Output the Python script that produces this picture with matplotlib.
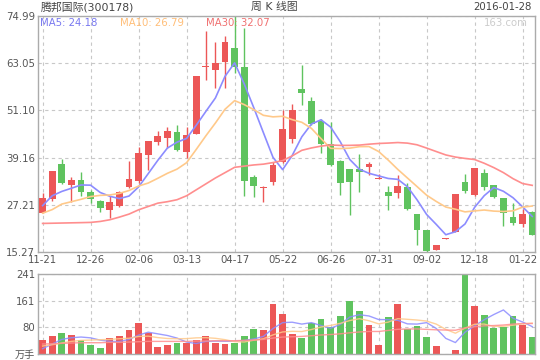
#!/usr/bin/env python3
"""
Weekly K-line chart for 腾邦国际 (300178), with MA5/MA10/MA30 and volume.
"""

import matplotlib
matplotlib.use("Agg")
import matplotlib.pyplot as plt
import numpy as np
import pandas as pd

plt.rcParams["font.family"] = ["DejaVu Sans", "Noto Sans CJK SC"]

# weekly candles
opens = [25.10, 28.64, 37.45, 32.25, 33.42, 30.40, 28.13, 25.95, 26.96, 31.66,
         33.34, 39.72, 43.07, 44.08, 45.76, 40.56, 45.09, 62.04, 61.20, 63.47,
         66.91, 62.04, 34.18, 31.40, 33.00, 38.12, 43.83, 56.59, 53.48, 48.36,
         42.49, 38.21, 36.19, 36.19, 36.78, 33.84, 30.40, 30.15, 31.66, 24.86,
         20.75, 15.80, 18.60, 20.41, 32.92, 29.73, 35.18, 32.16, 28.89, 24.10,
         22.26, 25.28]
highs = [30.20, 35.70, 38.79, 34.26, 35.44, 31.07, 28.47, 29.48, 30.65, 38.29,
         41.90, 43.41, 45.93, 46.93, 47.52, 46.85, 59.86, 71.10, 68.42, 69.93,
         74.99, 71.94, 34.68, 31.91, 38.04, 51.21, 52.81, 62.71, 54.57, 48.95,
         48.11, 38.54, 36.19, 39.97, 37.95, 35.02, 32.08, 34.85, 32.83, 24.86,
         20.75, 16.97, 18.80, 29.90, 34.93, 36.44, 36.19, 32.33, 29.06, 27.63,
         26.12, 25.53]
lows = [25.10, 28.05, 32.50, 27.88, 29.39, 27.63, 25.28, 23.85, 26.62, 31.49,
        32.67, 36.03, 42.23, 41.48, 40.89, 38.96, 45.09, 58.85, 56.84, 56.84,
        60.53, 29.48, 29.22, 27.97, 32.25, 37.70, 42.74, 52.39, 47.30, 40.22,
        37.00, 29.73, 24.52, 30.40, 34.85, 33.67, 25.95, 28.89, 25.87, 17.14,
        15.27, 15.80, 18.60, 20.41, 30.15, 29.48, 30.99, 29.06, 21.92, 22.09,
        21.59, 19.66]
closes = [28.90, 35.69, 32.67, 33.42, 30.48, 28.64, 26.45, 27.88, 30.48, 33.67,
          40.22, 43.24, 44.75, 46.01, 41.06, 45.00, 59.86, 62.20, 63.13, 68.42,
          62.04, 33.25, 31.99, 31.60, 37.20, 46.51, 51.21, 55.58, 47.77, 42.57,
          37.28, 32.75, 33.00, 35.43, 37.45, 34.01, 29.48, 31.91, 26.12, 20.92,
          15.40, 16.97, 18.80, 29.90, 30.74, 36.44, 31.74, 29.14, 25.11, 22.59,
          24.86, 19.66]
# volume in 万手
volumes = [40.7, 53.2, 64.7, 56.3, 40.7, 28.2, 18.8, 46.9, 53.2, 72.0,
           93.9, 62.6, 21.9, 28.2, 33.4, 33.4, 40.7, 53.2, 33.4, 31.3,
           33.4, 53.2, 75.1, 72.0, 150.2, 122.0, 59.5, 46.9, 93.9, 106.4,
           81.4, 115.8, 159.6, 128.3, 87.6, 28.2, 112.7, 150.2, 75.1, 84.5,
           50.1, 25.0, 0.3, 12.5, 241.0, 144.0, 118.9, 78.2, 81.4, 115.8,
           87.6, 50.1]

# moving-average values before a full window exists (earlier history not shown)
ma5_head = [27.0, 29.5, 30.6, 31.4]
ma10_head = [25.1, 26.0, 27.4, 28.0, 28.6, 29.3, 29.6, 29.7, 30.1]
ma30_head = [22.5, 22.55, 22.6, 22.65, 22.7, 22.76, 23.0, 23.43, 24.1, 24.86,
             25.95, 26.79, 27.63, 28.0, 28.5, 29.5, 31.0, 32.5, 34.0, 35.35,
             36.7, 37.0, 37.3, 37.5, 37.9, 38.4, 39.6, 41.0, 41.6]
vol_ma5_head = [16, 30, 44, 49]
vol_ma10_head = [24, 28, 33, 38, 41, 42, 43, 44, 46]
vol_ma30_head = [30, 31, 32, 33, 34, 34, 34, 35, 35, 36, 37, 38, 38, 38, 38,
                 38, 39, 39, 40, 40, 40, 41, 42, 44, 48, 51, 52, 53, 55]

tick_labels = ["11-21", "12-26", "02-06", "03-13", "04-17", "05-22",
               "06-26", "07-31", "09-02", "12-18", "01-22"]

RED = "#EC5757"
GREEN = "#5FC35F"
MA5_C = "#8C8CFF"
MA10_C = "#FFC98A"
MA30_C = "#FF8E8E"
GRID_C = "#C8C8C8"
SPINE_C = "#ABABAB"
TEXT_C = "#555555"


def moving_average(values, window, head):
    """Rolling mean, with the leading part taken from the chart."""
    ma = pd.Series(values).rolling(window).mean().to_numpy()
    ma[:len(head)] = head
    return ma


def style_axes(ax):
    for sp in ax.spines.values():
        sp.set_color(SPINE_C)
        sp.set_linewidth(1.0)
    ax.tick_params(length=0, colors=TEXT_C, labelsize=7.3, pad=2)
    ax.grid(True, color=GRID_C, linestyle=(0, (3, 3)), linewidth=0.8)
    ax.set_axisbelow(True)


def main():
    x = np.arange(len(closes))
    o = np.array(opens)
    c = np.array(closes)
    up = c >= o
    colors = [RED if u else GREEN for u in up]

    fig = plt.figure(figsize=(5.4, 3.6), dpi=100)
    ax = fig.add_axes([38 / 540, 1 - 252 / 360, 497 / 540, 236 / 360])
    axv = fig.add_axes([38 / 540, 1 - 354 / 360, 497 / 540, 80 / 360])

    # price panel
    ax.vlines(x, lows, highs, colors=colors, linewidth=1.0, zorder=2)
    body_low = np.minimum(o, c)
    body_h = np.maximum(np.abs(c - o), 0.25)
    ax.bar(x, body_h, bottom=body_low, width=0.72, color=colors, zorder=3)

    ax.plot(x, moving_average(closes, 5, ma5_head), color=MA5_C, lw=1.2, zorder=4)
    ax.plot(x, moving_average(closes, 10, ma10_head), color=MA10_C, lw=1.2, zorder=4)
    ax.plot(x, moving_average(closes, 30, ma30_head), color=MA30_C, lw=1.2, zorder=4)

    ymin, ymax = min(lows), max(highs)
    ax.set_ylim(ymin, ymax)
    ax.set_xlim(-0.48, 51.29)
    yt = np.linspace(ymin, ymax, 6)
    ax.set_yticks(yt)
    ax.set_yticklabels([f"{v:.2f}" for v in yt])
    ax.set_xticks(x[::5])
    ax.set_xticklabels(tick_labels)
    style_axes(ax)

    # volume panel
    axv.bar(x, volumes, width=0.72, color=colors, zorder=2)
    axv.plot(x, moving_average(volumes, 5, vol_ma5_head), color=MA5_C, lw=1.0, alpha=0.85, zorder=3)
    axv.plot(x, moving_average(volumes, 10, vol_ma10_head), color=MA10_C, lw=1.0, alpha=0.85, zorder=3)
    axv.plot(x, moving_average(volumes, 30, vol_ma30_head), color=MA30_C, lw=1.0, alpha=0.85, zorder=3)
    vmax = max(volumes)
    axv.set_ylim(0, vmax)
    axv.set_xlim(-0.48, 51.29)
    vt = np.linspace(0, vmax, 4)
    axv.set_yticks(vt)
    axv.set_yticklabels(["万手"] + [f"{v:.0f}" for v in vt[1:]])
    axv.set_xticks(x[::5])
    axv.set_xticklabels([])
    style_axes(axv)

    # header texts
    fig.text(41 / 540, 1 - 7 / 360, "腾邦国际(300178)", fontsize=7.8,
             color="#444444", ha="left", va="center")
    fig.text(274 / 540, 1 - 7 / 360, "周 K 线图", fontsize=7.8,
             color="#444444", ha="center", va="center")
    fig.text(532 / 540, 1 - 7 / 360, "2016-01-28", fontsize=7.3,
             color="#444444", ha="right", va="center")

    # MA legend inside the price panel
    ly = 1 - 23 / 360
    fig.text(39.5 / 540, ly, "MA5: 24.18", fontsize=7.3, color="#7878F0", va="center")
    fig.text(119.5 / 540, ly, "MA10: 26.79", fontsize=7.3, color="#FFBE78", va="center")
    fig.text(205.5 / 540, ly, "MA30: 32.07", fontsize=7.3, color="#F07070", va="center")
    fig.text(528 / 540, ly, "163.com", fontsize=7.3, color="#CCCCCC",
             ha="right", va="center")

    fig.savefig("out.png", dpi=100)
    plt.close(fig)


if __name__ == "__main__":
    main()
